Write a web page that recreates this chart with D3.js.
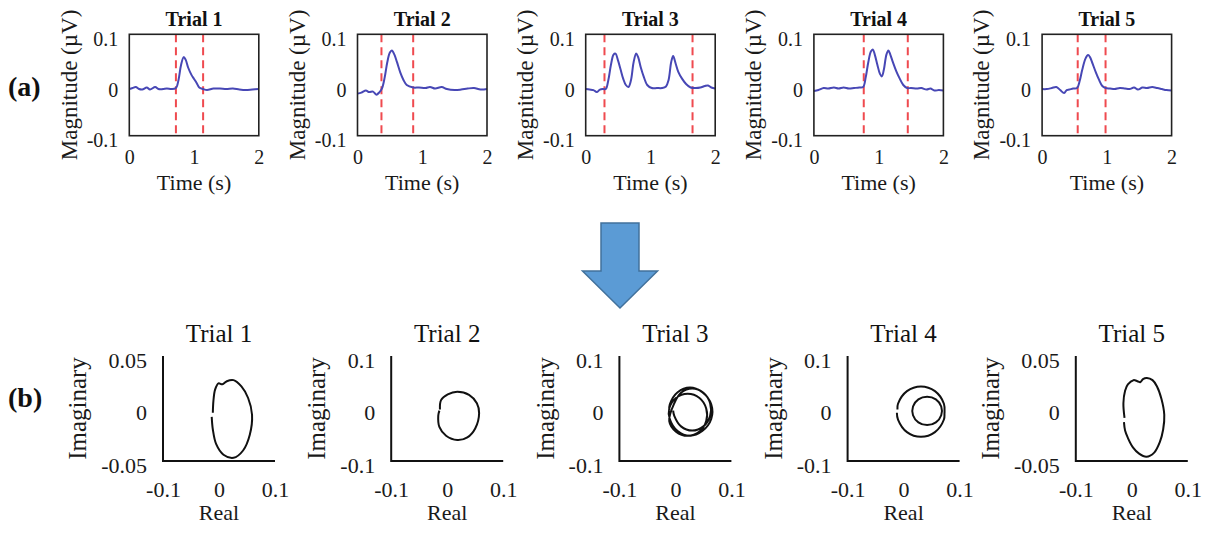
<!DOCTYPE html>
<html>
<head>
<meta charset="utf-8">
<script src="https://cdn.jsdelivr.net/npm/d3@7"></script>
<style>
  body { margin: 0; background: #fff; }
  svg { display: block; }
  svg text { font-family: 'Liberation Serif', 'Tinos', 'Times New Roman', 'DejaVu Serif', serif; }
</style>
</head>
<body>
<div id="chart"></div>
<script>
// DATA
// (a) magnitude over time, [time s, magnitude µV]
const trialNames = ['Trial 1', 'Trial 2', 'Trial 3', 'Trial 4', 'Trial 5'];
const timeTicks = [0, 1, 2];
const magTicks = [-0.1, 0, 0.1];

const mag1 = [[0,-0.008],[0.05,-0.006],[0.1,-0.004],[0.15,-0.008],[0.2,-0.009],[0.27,-0.005],[0.32,-0.009],[0.4,-0.004],[0.45,-0.008],[0.52,-0.008],[0.58,-0.007],[0.65,-0.008],[0.72,-0.006],[0.76,0.01],[0.8,0.04],[0.84,0.055],[0.87,0.05],[0.91,0.034],[0.96,0.02],[1.0,0.012],[1.04,0.004],[1.08,-0.005],[1.14,-0.008],[1.2,-0.01],[1.3,-0.007],[1.4,-0.007],[1.5,-0.008],[1.6,-0.007],[1.7,-0.009],[1.8,-0.01],[1.9,-0.009],[2.0,-0.008]];
const mag2 = [[0,-0.017],[0.06,-0.015],[0.13,-0.011],[0.18,-0.014],[0.24,-0.013],[0.29,-0.019],[0.34,-0.014],[0.38,-0.006],[0.42,0.015],[0.46,0.045],[0.5,0.064],[0.53,0.068],[0.57,0.06],[0.61,0.045],[0.66,0.025],[0.71,0.01],[0.76,0.0],[0.86,-0.005],[0.95,-0.005],[1.05,-0.006],[1.12,-0.004],[1.2,-0.007],[1.3,-0.004],[1.38,-0.008],[1.5,-0.01],[1.6,-0.009],[1.7,-0.007],[1.8,-0.006],[1.9,-0.009],[2.0,-0.008]];
const mag3 = [[0,-0.008],[0.06,-0.009],[0.12,-0.01],[0.17,-0.014],[0.22,-0.009],[0.27,-0.008],[0.31,-0.008],[0.35,0.01],[0.39,0.04],[0.43,0.06],[0.46,0.062],[0.5,0.048],[0.54,0.03],[0.58,0.012],[0.62,0.0],[0.66,-0.004],[0.7,0.01],[0.74,0.045],[0.78,0.062],[0.81,0.055],[0.85,0.035],[0.9,0.015],[0.95,0.0],[1.02,-0.006],[1.1,-0.006],[1.18,-0.006],[1.24,-0.003],[1.28,0.01],[1.32,0.045],[1.35,0.057],[1.39,0.042],[1.43,0.026],[1.49,0.012],[1.55,0.002],[1.62,-0.005],[1.7,-0.006],[1.77,-0.005],[1.84,-0.002],[1.89,-0.001],[1.94,-0.005],[2.0,-0.007]];
const mag4 = [[0,-0.012],[0.07,-0.01],[0.15,-0.006],[0.22,-0.007],[0.31,-0.005],[0.38,-0.007],[0.46,-0.005],[0.54,-0.007],[0.62,-0.006],[0.7,-0.005],[0.76,-0.004],[0.8,0.015],[0.84,0.045],[0.88,0.066],[0.91,0.07],[0.94,0.06],[0.98,0.04],[1.02,0.022],[1.05,0.017],[1.08,0.03],[1.12,0.06],[1.15,0.068],[1.18,0.06],[1.22,0.045],[1.27,0.028],[1.32,0.014],[1.38,0.0],[1.44,-0.006],[1.5,-0.006],[1.59,-0.007],[1.66,-0.006],[1.74,-0.009],[1.8,-0.007],[1.86,-0.011],[1.93,-0.01],[2.0,-0.011]];
const mag5 = [[0,-0.008],[0.07,-0.008],[0.15,-0.006],[0.22,-0.004],[0.28,-0.01],[0.34,-0.016],[0.38,-0.01],[0.42,-0.009],[0.48,-0.007],[0.54,-0.006],[0.58,0.008],[0.62,0.03],[0.67,0.052],[0.71,0.059],[0.74,0.055],[0.78,0.042],[0.83,0.025],[0.88,0.01],[0.93,-0.002],[0.98,-0.006],[1.05,-0.007],[1.12,-0.008],[1.2,-0.006],[1.28,-0.007],[1.35,-0.008],[1.42,-0.005],[1.48,-0.009],[1.55,-0.005],[1.62,-0.006],[1.7,-0.004],[1.78,-0.006],[1.85,-0.008],[1.92,-0.01],[2.0,-0.011]];
const magSeries = [mag1, mag2, mag3, mag4, mag5];

// red dashed window bounds (s)
const windows = [[0.72, 1.14], [0.37, 0.86], [0.29, 1.65], [0.77, 1.45], [0.55, 0.98]];

// (b) loops in complex plane, [real, imaginary]
const realTicks = [-0.1, 0, 0.1];
const imagTicks = [[-0.05, 0, 0.05], [-0.1, 0, 0.1], [-0.1, 0, 0.1], [-0.1, 0, 0.1], [-0.05, 0, 0.05]];

const loop1 = [[-0.011,-0.004],[-0.010,0.007],[-0.007,0.018],[-0.001,0.024],[0.006,0.023],[0.014,0.026],[0.026,0.027],[0.040,0.021],[0.052,0.010],[0.059,-0.006],[0.055,-0.025],[0.043,-0.040],[0.026,-0.047],[0.008,-0.044],[-0.005,-0.034],[-0.011,-0.020],[-0.013,-0.008]];
const loop2 = [[-0.013,-0.002],[-0.011,0.016],[0.001,0.027],[0.018,0.032],[0.039,0.026],[0.053,0.010],[0.057,-0.009],[0.050,-0.038],[0.036,-0.055],[0.018,-0.060],[-0.002,-0.052],[-0.014,-0.035],[-0.016,-0.014],[-0.014,-0.004]];
const loop3 = [[-0.011,-0.004],[-0.010,0.008],[0.004,0.031],[0.026,0.040],[0.048,0.031],[0.064,0.008],[0.064,-0.020],[0.048,-0.043],[0.026,-0.052],[0.004,-0.043],[-0.010,-0.020],
  [-0.011,0.000],[0.001,0.020],[0.022,0.028],[0.043,0.020],[0.055,0.000],[0.055,-0.024],[0.043,-0.044],[0.022,-0.052],[0.001,-0.044],[-0.011,-0.024],
  [-0.002,0.010],[0.010,0.030],[0.030,0.038],[0.050,0.030],[0.062,0.010],[0.062,-0.014],[0.050,-0.034],[0.030,-0.042],[0.010,-0.034],[-0.002,-0.014],[-0.004,-0.004]];
const loop4outer = [[-0.011,-0.002],[-0.010,0.009],[0.006,0.033],[0.031,0.042],[0.056,0.033],[0.072,0.009],[0.073,-0.010],[0.072,-0.021],[0.056,-0.045],[0.031,-0.054],[0.006,-0.045],[-0.010,-0.021],[-0.012,-0.008]];
const loop4inner = [[0.0672,0.0038],[0.0576,0.0174],[0.042,0.0225],[0.0264,0.0174],[0.0168,0.0038],[0.0168,-0.0128],[0.0264,-0.0263],[0.042,-0.0315],[0.0576,-0.0263],[0.0672,-0.0128]];
const loop5 = [[-0.013,-0.009],[-0.015,0.005],[-0.012,0.017],[-0.007,0.023],[0.003,0.027],[0.010,0.026],[0.015,0.025],[0.020,0.028],[0.027,0.029],[0.037,0.027],[0.045,0.021],[0.053,0.009],[0.058,-0.006],[0.056,-0.020],[0.050,-0.032],[0.040,-0.042],[0.026,-0.046],[0.013,-0.043],[0.002,-0.037],[-0.007,-0.028],[-0.012,-0.021],[-0.014,-0.013]];
// open curves, and closed ones (inner ring of trial 4)
const openLoops = [[loop1], [loop2], [loop3], [loop4outer], [loop5]];
const closedLoops = [[], [], [], [loop4inner], []];

//// SETUP
const W = 1205, H = 533;
const fmt = d => String(d);

const svg = d3.select('#chart').append('svg').attr('width', W).attr('height', H);
svg.append('rect').attr('width', W).attr('height', H).attr('fill', '#fff');

// layout
const colStep = 228.2;
const topX0 = 129.3, boxW = 129.5, boxTop = 34.3, boxBot = 135.7;
const botX0 = 163, botW = 112, botTop = 356, botBot = 461;

function styleAxis(g, size) {
  g.select('.domain').remove();
  g.attr('font-family', null).attr('font-size', size);
  g.selectAll('text').attr('fill', '#1a1a1a');
}

// (a) row
magSeries.forEach(function(series, i) {
  const bx = topX0 + colStep * i;
  const x = d3.scaleLinear().domain([0, 2]).range([bx, bx + boxW]);
  const y = d3.scaleLinear().domain([-0.1, 0.1]).range([boxBot, boxTop]);
  const g = svg.append('g').attr('class', 'top-panel');

  // dashed window
  g.selectAll('.win').data(windows[i]).enter().append('line')
    .attr('x1', d => x(d)).attr('x2', d => x(d))
    .attr('y1', boxTop).attr('y2', boxBot)
    .attr('stroke', '#ef4a4f').attr('stroke-width', 2).attr('stroke-dasharray', '8,5');

  g.append('path').datum(series)
    .attr('d', d3.line().x(d => x(d[0])).y(d => y(d[1])).curve(d3.curveCatmullRom.alpha(0.5)))
    .attr('fill', 'none').attr('stroke', '#4747b5').attr('stroke-width', 2);

  g.append('rect').attr('x', bx).attr('y', boxTop).attr('width', boxW).attr('height', boxBot - boxTop)
    .attr('fill', 'none').attr('stroke', '#222').attr('stroke-width', 1.6);

  const xa = g.append('g').attr('transform', 'translate(0,' + boxBot + ')')
    .call(d3.axisBottom(x).tickValues(timeTicks).tickSize(0).tickPadding(14).tickFormat(fmt));
  styleAxis(xa, 20);
  const ya = g.append('g').attr('transform', 'translate(' + bx + ',0)')
    .call(d3.axisLeft(y).tickValues(magTicks).tickSize(0).tickPadding(11).tickFormat(fmt));
  styleAxis(ya, 20);
  ya.selectAll('text').attr('dy', '0.55em');

  g.append('text').attr('x', bx + boxW / 2).attr('y', 26).attr('text-anchor', 'middle')
    .attr('font-size', 20).attr('font-weight', 'bold').attr('fill', '#111')
    .text(trialNames[i]);
  g.append('text').attr('x', bx + boxW / 2).attr('y', 190).attr('text-anchor', 'middle')
    .attr('font-size', 22).attr('fill', '#1a1a1a')
    .text('Time (s)');
  const yb = ya.node().getBBox();
  const lx = bx + yb.x - 10;
  g.append('text').attr('transform', 'translate(' + lx + ',' + ((boxTop + boxBot) / 2) + ') rotate(-90)')
    .attr('text-anchor', 'middle').attr('font-size', 23).attr('fill', '#1a1a1a')
    .text('Magnitude (\u00b5V)');
});

// (b) row
openLoops.forEach(function(loops, i) {
  const ax = botX0 + colStep * i;
  const x = d3.scaleLinear().domain([-0.1, 0.1]).range([ax, ax + botW]);
  const yt = imagTicks[i];
  const y = d3.scaleLinear().domain([yt[0], yt[2]]).range([botBot, botTop]);
  const g = svg.append('g').attr('class', 'bottom-panel');

  const lineOpen = d3.line().x(d => x(d[0])).y(d => y(d[1])).curve(d3.curveCatmullRom.alpha(0.5));
  const lineClosed = d3.line().x(d => x(d[0])).y(d => y(d[1])).curve(d3.curveCatmullRomClosed.alpha(0.5));
  g.selectAll('.loop').data(loops).enter().append('path')
    .attr('d', lineOpen).attr('fill', 'none').attr('stroke', '#111').attr('stroke-width', 2);
  g.selectAll('.ring').data(closedLoops[i]).enter().append('path')
    .attr('d', lineClosed).attr('fill', 'none').attr('stroke', '#111').attr('stroke-width', 2);

  // L-shaped axes
  g.append('path')
    .attr('d', 'M' + ax + ',' + botTop + 'V' + botBot + 'H' + (ax + botW))
    .attr('fill', 'none').attr('stroke', '#111').attr('stroke-width', 2);

  const xa = g.append('g').attr('transform', 'translate(0,' + botBot + ')')
    .call(d3.axisBottom(x).tickValues(realTicks).tickSize(0).tickPadding(20).tickFormat(fmt));
  styleAxis(xa, 22);
  const ya = g.append('g').attr('transform', 'translate(' + ax + ',0)')
    .call(d3.axisLeft(y).tickValues(yt).tickSize(0).tickPadding(16).tickFormat(fmt));
  styleAxis(ya, 22);
  ya.selectAll('text').attr('dy', '0.51em');

  g.append('text').attr('x', ax + botW / 2).attr('y', 342).attr('text-anchor', 'middle')
    .attr('font-size', 25).attr('fill', '#111')
    .text(trialNames[i]);
  g.append('text').attr('x', ax + botW / 2).attr('y', 520).attr('text-anchor', 'middle')
    .attr('font-size', 22).attr('fill', '#1a1a1a')
    .text('Real');
  const yb = ya.node().getBBox();
  const lx = ax + yb.x - 15;
  g.append('text').attr('transform', 'translate(' + lx + ',' + ((botTop + botBot) / 2) + ') rotate(-90)')
    .attr('text-anchor', 'middle').attr('font-size', 25).attr('fill', '#1a1a1a')
    .text('Imaginary');
});

// panel letters
svg.append('text').attr('x', 8).attr('y', 96).attr('font-size', 28)
  .attr('font-weight', 'bold').attr('fill', '#111').text('(a)');
svg.append('text').attr('x', 8).attr('y', 407).attr('font-size', 28)
  .attr('font-weight', 'bold').attr('fill', '#111').text('(b)');

// big arrow between rows
const arrow = { cx: 620, top: 223, neck: 271, tip: 308, shaft: 19, head: 37.5 };
svg.append('path')
  .attr('d', 'M' + (arrow.cx - arrow.shaft) + ',' + arrow.top +
    'H' + (arrow.cx + arrow.shaft) + 'V' + arrow.neck + 'H' + (arrow.cx + arrow.head) +
    'L' + arrow.cx + ',' + arrow.tip + 'L' + (arrow.cx - arrow.head) + ',' + arrow.neck +
    'H' + (arrow.cx - arrow.shaft) + 'Z')
  .attr('fill', '#5b9bd5').attr('stroke', '#41719c').attr('stroke-width', 1.5);
</script>
</body>
</html>
